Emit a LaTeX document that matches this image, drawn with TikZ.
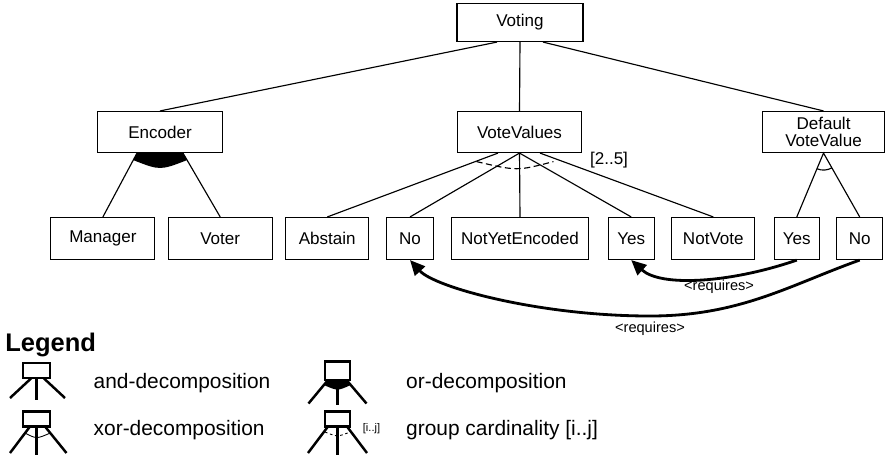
\documentclass[tikz,border=0pt]{standalone}
\usepackage{fontspec}
\setmainfont{Liberation Sans}
\usetikzlibrary{arrows.meta,calc}
\tikzset{font=\fontsize{9.7}{11}\selectfont}
\tikzset{feat/.style={draw,line width=0.65pt,minimum height=0.84cm,inner sep=1pt,align=center}}
\tikzset{tree/.style={line width=0.65pt}}
\tikzset{req/.style={line width=1.6pt,-{Triangle[length=0.3cm,width=0.27cm]}}}
\tikzset{reqlbl/.style={font=\fontsize{8.3}{9}\selectfont,inner sep=0.5pt}}
\tikzset{legtext/.style={anchor=west,font=\fontsize{11.9}{13}\selectfont}}
\tikzset{icon/.style={line width=1.4pt}}

\begin{document}
\begin{tikzpicture}[scale=1]
  \useasboundingbox (0,0) rectangle (17.7,-9.14);
  % features
  \node[feat,minimum width=2.52cm,minimum height=0.76cm] (voting) at (10.4,-0.45) {Voting};
  \node[feat,minimum width=2.5cm,minimum height=0.82cm] (encoder) at (3.2,-2.64) {Encoder};
  \node[feat,minimum width=2.48cm,minimum height=0.82cm] (votevalues) at (10.39,-2.64) {VoteValues};
  \node[feat,minimum width=2.44cm,minimum height=0.82cm] (defvote) at (16.47,-2.64) {Default\\[-1pt]VoteValue};
  \node[feat,minimum width=2.08cm] (manager) at (2.058,-4.77) {Manager};
  \node[feat,minimum width=2.08cm] (voter) at (4.404,-4.77) {Voter};
  \node[feat,minimum width=1.66cm] (abstain) at (6.546,-4.77) {Abstain};
  \node[feat,minimum width=0.94cm] (no) at (8.2,-4.77) {No};
  \node[feat,minimum width=2.74cm] (nye) at (10.4,-4.77) {NotYetEncoded};
  \node[feat,minimum width=0.92cm] (yes) at (12.624,-4.77) {Yes};
  \node[feat,minimum width=1.66cm] (notvote) at (14.266,-4.77) {NotVote};
  \node[feat,minimum width=0.9cm] (yestwo) at (15.936,-4.77) {Yes};
  \node[feat,minimum width=0.92cm] (notwo) at (17.194,-4.77) {No};

  % decompositions
  \draw[tree] ($(voting.south)+(-0.46,0)$) -- (encoder.north);
  \draw[tree] (voting.south) -- (votevalues.north);
  \draw[tree] ($(voting.south)+(0.46,0)$) -- (defvote.north);

  \coordinate (encl) at ($(encoder.south)+(-0.46,0)$);
  \coordinate (encr) at ($(encoder.south)+(0.46,0)$);
  \draw[tree] (encl) -- (manager.north);
  \draw[tree] (encr) -- (voter.north);
  \fill (encl) -- ($(encl)!0.11!(manager.north)$) .. controls ($(encoder.south)+(0,-0.35)$) ..
    ($(encr)!0.11!(voter.north)$) -- (encr) -- cycle;

  \draw[tree] ($(votevalues.south)+(-0.43,0)$) -- (abstain.north);
  \draw[tree] (votevalues.south) -- (no.north);
  \draw[tree] (votevalues.south) -- (nye.north);
  \draw[tree] (votevalues.south) -- (yes.north);
  \draw[tree] ($(votevalues.south)+(0.41,0)$) -- (notvote.north);
  \draw[tree,dash pattern=on 3.5pt off 2pt] ($(votevalues.south)+(-0.86,-0.17)$)
    .. controls ($(votevalues.south)+(-0.05,-0.36)$) .. ($(votevalues.south)+(0.68,-0.17)$);
  \node (card) at (12.18,-3.2) {[2..5]};

  \draw[tree] (yestwo.north) -- (defvote.south) -- (notwo.north);
  \draw[tree] ($(defvote.south)+(247.7:0.34)$) arc[start angle=247.7,end angle=299.1,radius=0.34];

  % requires
  \draw[req] (yestwo.south) .. controls +(-1.3,-0.45) and +(0.6,-0.55) ..
    node[pos=0.4,below,reqlbl] (reqone) {<requires>} (yes.south);
  \draw[req] (notwo.south) .. controls +(-1.4,-0.5) and +(1.8,0) .. (13.0,-6.32)
    node[below=2pt,reqlbl] (reqtwo) {<requires>}
    .. controls +(-2.2,0) and +(0.5,-0.55) .. (no.south);

  % legend
  \node[anchor=base west,font=\fontsize{14.5}{16}\bfseries\selectfont,inner sep=0pt] (legend) at (0.1,-7.02) {Legend};
  \draw[icon] (0.46,-7.26) rectangle (1.0,-7.56);
  \draw[icon] (0.63,-7.56) -- (0.2,-7.96);
  \draw[icon] (0.73,-7.56) -- (0.73,-8.0);
  \draw[icon] (0.87,-7.56) -- (1.3,-7.96);
  \node[legtext] (andtxt) at (1.75,-7.66) {and-decomposition};

  \draw[icon] (0.46,-8.23) rectangle (1.0,-8.53);
  \draw[icon] (0.6,-8.53) -- (0.2,-9.06);
  \draw[icon] (0.73,-8.53) -- (0.73,-9.1);
  \draw[icon] (0.9,-8.53) -- (1.33,-9.06);
  \draw[line width=0.5pt] (0.5,-8.66) .. controls (0.73,-8.78) .. (1.005,-8.66);
  \node[legtext] (xortxt) at (1.75,-8.6) {xor-decomposition};

  \draw[icon] (6.5,-7.23) rectangle (7.0,-7.6);
  \draw[icon] (6.56,-7.6) -- (6.17,-8.07);
  \draw[icon] (6.75,-7.6) -- (6.75,-8.1);
  \draw[icon] (6.93,-7.6) -- (7.33,-8.07);
  \fill (6.56,-7.6) -- (6.477,-7.7) .. controls (6.75,-7.82) .. (7.015,-7.7) -- (6.93,-7.6) -- cycle;
  \node[legtext] (ortxt) at (8.0,-7.66) {or-decomposition};

  \draw[icon] (6.5,-8.23) rectangle (7.0,-8.53);
  \draw[icon] (6.56,-8.53) -- (6.16,-9.06);
  \draw[icon] (6.75,-8.53) -- (6.75,-9.1);
  \draw[icon] (6.94,-8.53) -- (7.34,-9.06);
  \draw[line width=0.5pt,dash pattern=on 1.5pt off 1.5pt] (6.5,-8.64) .. controls (6.75,-8.74) .. (7.0,-8.64);
  \node[font=\fontsize{6.3}{7}\selectfont,inner sep=0pt] (cardlbl) at (7.43,-8.58) {[i..j]};
  \node[legtext] (grptxt) at (8.0,-8.6) {group cardinality [i..j]};
\end{tikzpicture}
\end{document}
